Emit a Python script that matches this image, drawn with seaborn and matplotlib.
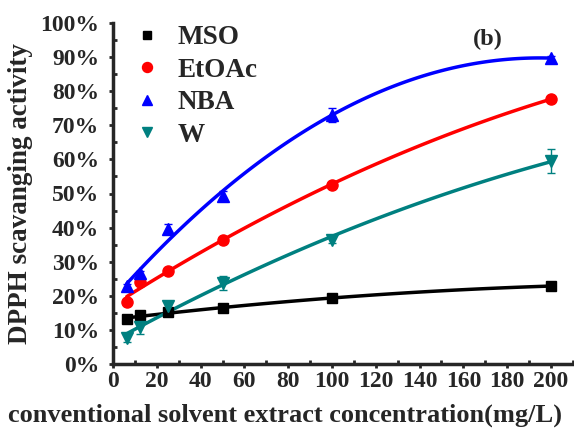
import numpy as np
import pandas as pd
import seaborn as sns
import matplotlib.pyplot as plt
from matplotlib.ticker import MultipleLocator, FuncFormatter

# concentraciones (mg/L)
conc = [6.25, 12.5, 25, 50, 100, 200]

# actividad DPPH (%) por extracto
mso = [13.2, 14.3, 15.2, 16.4, 19.4, 22.9]
etoac = [18.2, 24.0, 27.2, 36.4, 52.5, 77.7]
nba = [22.9, 26.6, 39.5, 49.2, 73.0, 89.7]
w = [7.6, 10.9, 17.1, 23.7, 36.5, 59.5]

# barras de error
mso_err = [0.5, 0.5, 0.5, 0.5, 0.5, 0.5]
etoac_err = [0.5, 0.5, 0.5, 0.5, 0.5, 0.5]
nba_err = [0.6, 0.8, 1.5, 1.5, 2.0, 0.6]
w_err = [1.0, 2.0, 1.0, 2.0, 1.0, 3.5]

series = [
    ("MSO", mso, mso_err, "black", "s", 7),
    ("EtOAc", etoac, etoac_err, "#ff0000", "o", 8),
    ("NBA", nba, nba_err, "#0000ff", "^", 8),
    ("W", w, w_err, "#008080", "v", 8),
]

sns.set_style("ticks")
plt.rcParams['font.family'] = ['Liberation Serif', 'DejaVu Serif']
plt.rcParams['font.weight'] = 'bold'

fig = plt.figure(figsize=(5.74, 4.30), dpi=100)
ax = fig.add_axes([0.197, 0.153, 0.801, 0.794])

for nombre, vals, err, color, marca, ms in series:
    df = pd.DataFrame({"conc": conc, "val": vals})
    sns.regplot(data=df, x="conc", y="val", order=2, ci=None, scatter=False,
                color=color, line_kws={"lw": 2.5}, ax=ax)
    ax.errorbar(conc, vals, yerr=err, fmt=marca, color=color, ms=ms,
                capsize=3, elinewidth=1, capthick=1, label=nombre, zorder=3)

ax.set_xlim(0, 210)
ax.set_ylim(0, 100)
ax.xaxis.set_major_locator(MultipleLocator(20))
ax.xaxis.set_minor_locator(MultipleLocator(10))
ax.yaxis.set_major_locator(MultipleLocator(10))
ax.yaxis.set_minor_locator(MultipleLocator(5))
ax.yaxis.set_major_formatter(FuncFormatter(lambda v, p: f"{int(v)}%"))
ax.tick_params(which="major", direction="out", length=3, width=2, labelsize=17, pad=2)
ax.tick_params(axis="y", which="major", pad=7)
ax.tick_params(which="minor", direction="in", length=3, width=2)
for lab in ax.get_xticklabels() + ax.get_yticklabels():
    lab.set_fontweight("bold")

for s in ["top", "right"]:
    ax.spines[s].set_visible(False)
for s in ["left", "bottom"]:
    ax.spines[s].set_linewidth(2.5)

ax.set_xlabel("conventional solvent extract concentration(mg/L)", fontsize=19,
              fontweight="bold")
ax.xaxis.set_label_coords(0.374, -0.115)
ax.set_ylabel("DPPH scavanging activity", fontsize=19.5, fontweight="bold")
ax.yaxis.set_label_coords(-0.175, 0.5)

handles, labels = ax.get_legend_handles_labels()
handles = [h[0] for h in handles]
ax.legend(handles, labels, loc="upper left", frameon=False,
          handletextpad=0.4, labelspacing=0.28, borderaxespad=0.0,
          bbox_to_anchor=(0.01, 1.025), markerscale=0.9, handlelength=1.4,
          prop={"weight": "bold", "size": 19.5})
ax.text(0.815, 0.95, "(b)", transform=ax.transAxes, fontsize=17.5, fontweight="bold",
        ha="center", va="center")

fig.savefig("out.png", dpi=100)
